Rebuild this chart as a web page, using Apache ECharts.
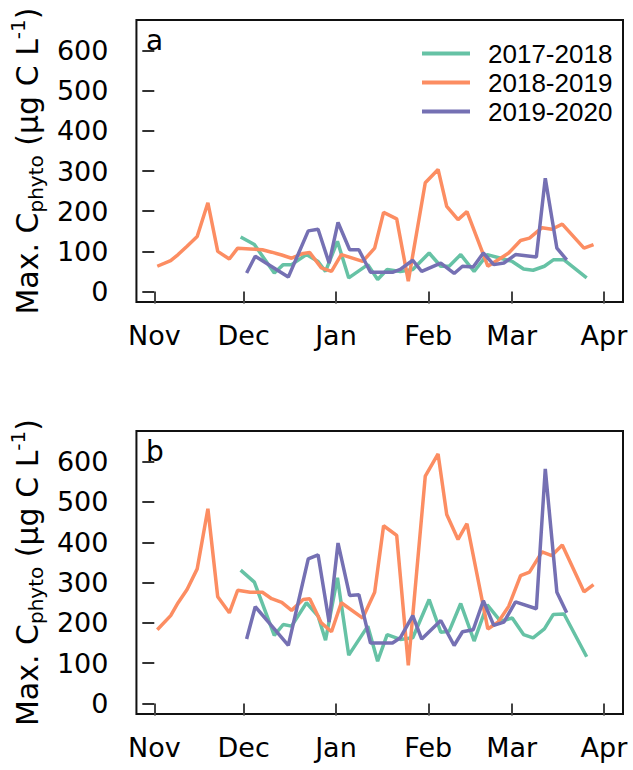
<!DOCTYPE html>
<html>
<head>
<meta charset="utf-8">
<script src="https://cdn.jsdelivr.net/npm/echarts@6/dist/echarts.min.js"></script>
<style>
  html, body { margin: 0; padding: 0; background: #fff; }
  #eChart { width: 633px; height: 770px; }
</style>
</head>
<body>
<div id="eChart"></div>
<script>
// day number counted from 1 November
const monthDays = [0, 30, 61, 92, 120, 151];
const monthNames = ["Nov", "Dec", "Jan", "Feb", "Mar", "Apr"];
const yTicks = [0, 100, 200, 300, 400, 500, 600];

const seasonNames = ["2017-2018", "2018-2019", "2019-2020"];
const seasonColors = ["#66C2A5", "#FC8D62", "#7570B3"];

const days1718 = [29, 33.6, 40.3, 43.3, 46.1, 51.1, 55, 57.5, 61.5, 65.3, 71.7, 75, 78.2, 82.6, 86.8,
  92.3, 96.2, 99, 102.9, 107.4, 111.8, 116.3, 120.2, 124, 127.2, 131, 134, 137.6, 145.2];
const days1819 = [1, 5.5, 8, 11, 14.4, 18, 21.3, 25.2, 28, 32.2, 36.3, 39.4, 42.8, 46.1, 50, 52.2,
  56.1, 59.5, 62.8, 70, 74, 77, 81.4, 85.3, 91, 95.3, 98.2, 102, 105, 112, 115.5, 119, 123, 126,
  130.2, 133.5, 137, 144.3, 147.5];
const days1920 = [31, 33.9, 39.5, 45, 51.7, 55, 58.7, 61.7, 65.6, 68.7, 72.6, 76, 80, 82.6, 86.8,
  89.8, 96.2, 100.7, 103.5, 107.1, 110.5, 114, 117.4, 121.3, 128.3, 131.3, 135.2, 138.5];

// panel a
const a1718 = [136, 117, 46, 67, 67, 92, 75, 50, 125, 34, 67, 30, 55, 50, 55, 96, 63, 63, 92, 50,
  92, 83, 75, 56, 53, 63, 79, 79, 34];
const a1819 = [63, 77, 92, 113, 137, 221, 100, 81, 108, 106, 104, 98, 91, 83, 95, 97, 59, 50, 92, 75,
  108, 197, 181, 26, 271, 304, 212, 179, 199, 63, 79, 96, 127, 133, 159, 155, 168, 108, 117];
const a1920 = [46, 88, 62, 36, 151, 155, 71, 172, 104, 104, 48, 48, 48, 55, 78, 50, 71, 45, 63, 61,
  96, 67, 71, 92, 86, 282, 108, 79];

// panel b
const b1718 = [331, 301, 169, 196, 192, 250, 217, 157, 312, 120, 192, 105, 171, 159, 163, 258, 177,
  179, 248, 155, 245, 204, 212, 171, 163, 185, 221, 222, 116];
const b1819 = [183, 218, 250, 283, 334, 483, 265, 225, 281, 276, 276, 260, 251, 231, 258, 260, 200,
  178, 250, 212, 276, 441, 417, 95, 564, 619, 469, 407, 446, 185, 202, 241, 317, 326, 376, 367, 393,
  277, 295];
const b1920 = [160, 240, 192, 144, 359, 369, 202, 398, 268, 270, 150, 150, 150, 163, 218, 160, 206,
  144, 178, 183, 255, 194, 202, 252, 235, 582, 276, 225];

const zip = (xs, ys) => xs.map((x, i) => [x, ys[i]]);

const axisFont = "DejaVu Sans";

function makeX(gridIndex) {
  return {
    type: "value",
    gridIndex,
    min: -6,
    max: 157.4,
    axisLine: { show: false },
    splitLine: { show: false },
    axisTick: {
      show: true,
      customValues: monthDays,
      length: 12,
      lineStyle: { color: "#444", width: 2 },
    },
    axisLabel: {
      customValues: monthDays,
      formatter: (v) => monthNames[monthDays.indexOf(v)],
      margin: 20,
      color: "#000",
      fontSize: 27,
      fontFamily: axisFont,
    },
  };
}

function makeY(gridIndex) {
  return {
    type: "value",
    gridIndex,
    min: -26,
    max: 676,
    axisLine: { show: false },
    splitLine: { show: false },
    axisTick: {
      show: true,
      customValues: yTicks,
      length: 12,
      lineStyle: { color: "#333", width: 2 },
    },
    axisLabel: {
      customValues: yTicks,
      margin: 28,
      color: "#000",
      fontSize: 27,
      fontFamily: axisFont,
    },
    name: "{m|Max. C}{s|phyto}{m| (µg C L}{p|-1}{m|)}",
    nameLocation: "middle",
    nameRotate: 90,
    nameGap: 84,
    nameTextStyle: {
      rich: {
        m: { fontSize: 30, fontFamily: axisFont, color: "#000", lineHeight: 38, verticalAlign: "middle" },
        s: { fontSize: 20, fontFamily: axisFont, color: "#000", lineHeight: 20, verticalAlign: "bottom" },
        p: { fontSize: 20, fontFamily: axisFont, color: "#000", lineHeight: 20, verticalAlign: "top" },
      },
    },
  };
}

function makeSeries(name, color, idx, data) {
  return {
    name,
    type: "line",
    xAxisIndex: idx,
    yAxisIndex: idx,
    showSymbol: false,
    symbol: "none",
    lineStyle: { color, width: 3.5 },
    itemStyle: { color },
    data,
  };
}

const opts = {
  animation: false,
  grid: [
    { left: 134, top: 20, width: 489, height: 282, show: true, borderColor: "#111", borderWidth: 2 },
    { left: 134, top: 431, width: 489, height: 283, show: true, borderColor: "#111", borderWidth: 2 },
  ],
  xAxis: [makeX(0), makeX(1)],
  yAxis: [makeY(0), makeY(1)],
  legend: {
    orient: "vertical",
    left: 417,
    top: 34,
    itemWidth: 48,
    itemHeight: 4,
    itemGap: 0,
    icon: "rect",
    data: seasonNames,
    textStyle: {
      fontSize: 26,
      fontFamily: "Liberation Sans",
      color: "#000",
      lineHeight: 29,
      padding: [0, 0, 0, 13],
    },
  },
  graphic: [
    { type: "text", left: 146, top: 26, style: { text: "a", fontSize: 28, fontFamily: axisFont, fill: "#000" } },
    { type: "text", left: 146, top: 437, style: { text: "b", fontSize: 28, fontFamily: axisFont, fill: "#000" } },
  ],
  series: [
    makeSeries(seasonNames[0], seasonColors[0], 0, zip(days1718, a1718)),
    makeSeries(seasonNames[1], seasonColors[1], 0, zip(days1819, a1819)),
    makeSeries(seasonNames[2], seasonColors[2], 0, zip(days1920, a1920)),
    makeSeries(seasonNames[0], seasonColors[0], 1, zip(days1718, b1718)),
    makeSeries(seasonNames[1], seasonColors[1], 1, zip(days1819, b1819)),
    makeSeries(seasonNames[2], seasonColors[2], 1, zip(days1920, b1920)),
  ],
};

const myChart = echarts.init(document.getElementById("eChart"), null, { renderer: "svg" });
myChart.setOption(opts);
</script>
</body>
</html>
